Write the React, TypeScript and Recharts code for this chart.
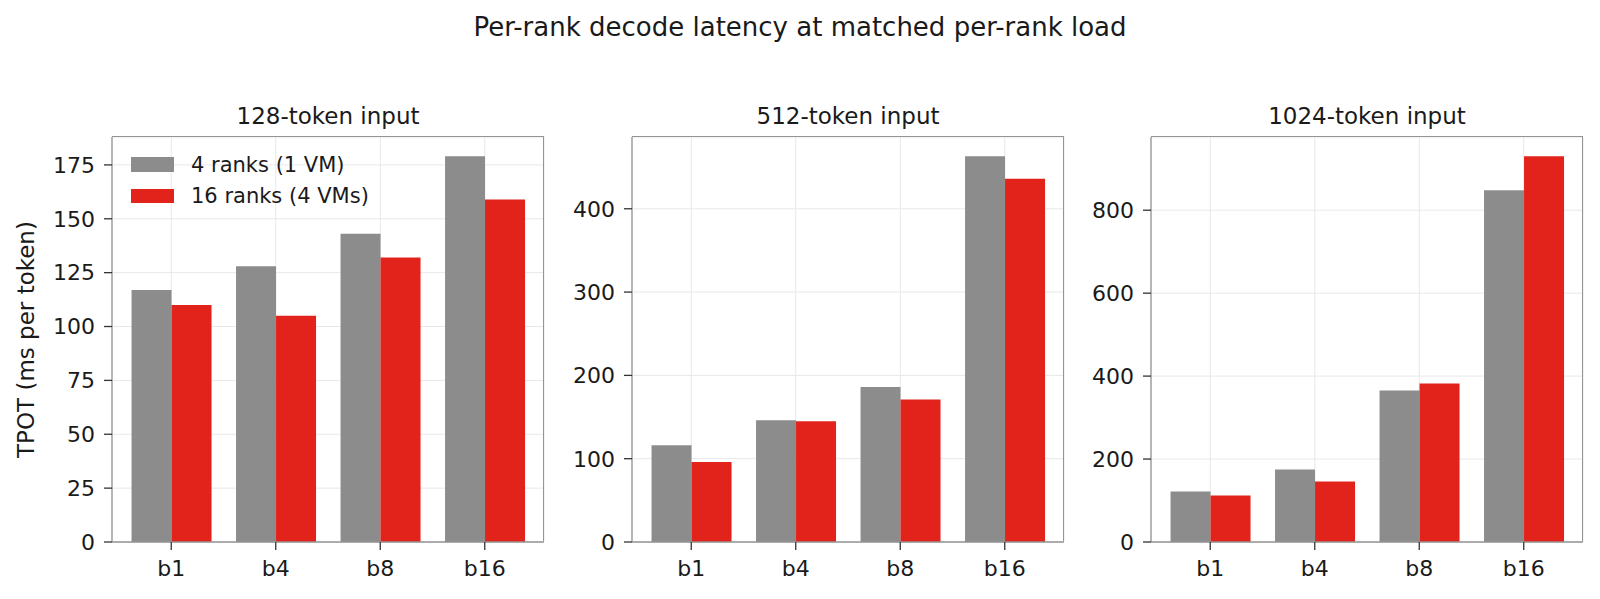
import { BarChart, Bar, XAxis, YAxis, CartesianGrid } from "recharts";

// values (TPOT, ms per token)
const BATCHES = ["b1", "b4", "b8", "b16"];
const SERIES_NAMES = ["4 ranks (1 VM)", "16 ranks (4 VMs)"];
const SERIES_COLORS = ["#8c8c8c", "#e2231b"];

const PANEL_TITLES = ["128-token input", "512-token input", "1024-token input"];
const TPOT_128_4R = [117, 128, 143, 179];
const TPOT_128_16R = [110, 105, 132, 159];
const TPOT_512_4R = [116, 146, 186, 463];
const TPOT_512_16R = [96, 145, 171, 436];
const TPOT_1024_4R = [122, 175, 365, 848];
const TPOT_1024_16R = [112, 146, 382, 930];

const TICKS_128 = [0, 25, 50, 75, 100, 125, 150, 175];
const TICKS_512 = [0, 100, 200, 300, 400];
const TICKS_1024 = [0, 200, 400, 600, 800];

const FONT = "DejaVu Sans";
const PLOT_LEFTS = [112, 632, 1151];
const PLOT_W = 432;
const PLOT_TOP = 137;
const PLOT_BOTTOM = 542;
const FRAME_COLOR = "#959595";
const FRAME = { stroke: FRAME_COLOR, strokeWidth: 1.3 };
const TICK_LINE = { stroke: "#333333", strokeWidth: 1.3 };

const panels = [
  { title: PANEL_TITLES[0], a: TPOT_128_4R, b: TPOT_128_16R, ticks: TICKS_128 },
  { title: PANEL_TITLES[1], a: TPOT_512_4R, b: TPOT_512_16R, ticks: TICKS_512 },
  { title: PANEL_TITLES[2], a: TPOT_1024_4R, b: TPOT_1024_16R, ticks: TICKS_1024 },
];

function Panel({ idx }: { idx: number }) {
  const p = panels[idx];
  const rows = BATCHES.map((batch, i) => ({ batch, r4: p.a[i], r16: p.b[i] }));
  const left = PLOT_LEFTS[idx] - 100;
  const tick = { fontSize: 22, fill: "#1a1a1a", fontFamily: FONT };
  return (
    <div style={{ position: "absolute", left, top: 0 }}>
      <BarChart
        width={PLOT_W + 110}
        height={599}
        data={rows}
        margin={{ top: PLOT_TOP, right: 10, bottom: 599 - PLOT_BOTTOM - 40, left: 40 }}
        barCategoryGap="12%"
        barGap={0}
      >
        <CartesianGrid stroke="#e8e8e8" strokeWidth={1} />
        <XAxis
          dataKey="batch"
          height={40}
          padding={{ left: 7, right: 7 }}
          tick={tick}
          tickSize={8}
          tickMargin={10}
          axisLine={FRAME}
          tickLine={TICK_LINE}
        />
        <YAxis
          width={60}
          domain={[0, (max: number) => max * 1.05]}
          ticks={p.ticks}
          interval={0}
          tick={tick}
          tickSize={8}
          tickMargin={9}
          axisLine={FRAME}
          tickLine={TICK_LINE}
        />
        <Bar dataKey="r4" name={SERIES_NAMES[0]} fill={SERIES_COLORS[0]} isAnimationActive={false} />
        <Bar dataKey="r16" name={SERIES_NAMES[1]} fill={SERIES_COLORS[1]} isAnimationActive={false} />
      </BarChart>
      {/* top/right spines of the axes box */}
      <div
        style={{
          position: "absolute",
          left: 100,
          top: PLOT_TOP - 0.65,
          width: PLOT_W,
          height: PLOT_BOTTOM - PLOT_TOP,
          borderTop: `1.3px solid ${FRAME_COLOR}`,
          borderRight: `1.3px solid ${FRAME_COLOR}`,
          boxSizing: "border-box",
          pointerEvents: "none",
        }}
      />
    </div>
  );
}

export default function App() {
  const midY = (PLOT_TOP + PLOT_BOTTOM) / 2;
  return (
    <div style={{ position: "relative", width: 1600, height: 599, background: "#fff", fontFamily: FONT }}>
      <style>{`body{margin:0}`}</style>
      <svg width={1600} height={599} style={{ position: "absolute", left: 0, top: 0 }}>
        <text x={800} y={36} textAnchor="middle" fontSize={26} fill="#1a1a1a" fontFamily={FONT}>
          Per-rank decode latency at matched per-rank load
        </text>
        {panels.map((p, i) => (
          <text key={p.title} x={PLOT_LEFTS[i] + PLOT_W / 2} y={124} textAnchor="middle" fontSize={23} fill="#1a1a1a" fontFamily={FONT}>
            {p.title}
          </text>
        ))}
        <text
          x={34}
          y={midY}
          transform={`rotate(-90, 34, ${midY})`}
          textAnchor="middle"
          fontSize={23}
          fill="#1a1a1a"
          fontFamily={FONT}
        >
          TPOT (ms per token)
        </text>
      </svg>
      {panels.map((p, i) => (
        <Panel key={p.title} idx={i} />
      ))}
      <div style={{ position: "absolute", left: PLOT_LEFTS[0] + 19, top: 149, fontSize: 21, color: "#1a1a1a" }}>
        {SERIES_NAMES.map((name, i) => (
          <div key={name} style={{ display: "flex", alignItems: "center", height: 31.3 }}>
            <div style={{ width: 43, height: 14.5, background: SERIES_COLORS[i], marginRight: 17 }} />
            <span>{name}</span>
          </div>
        ))}
      </div>
    </div>
  );
}
